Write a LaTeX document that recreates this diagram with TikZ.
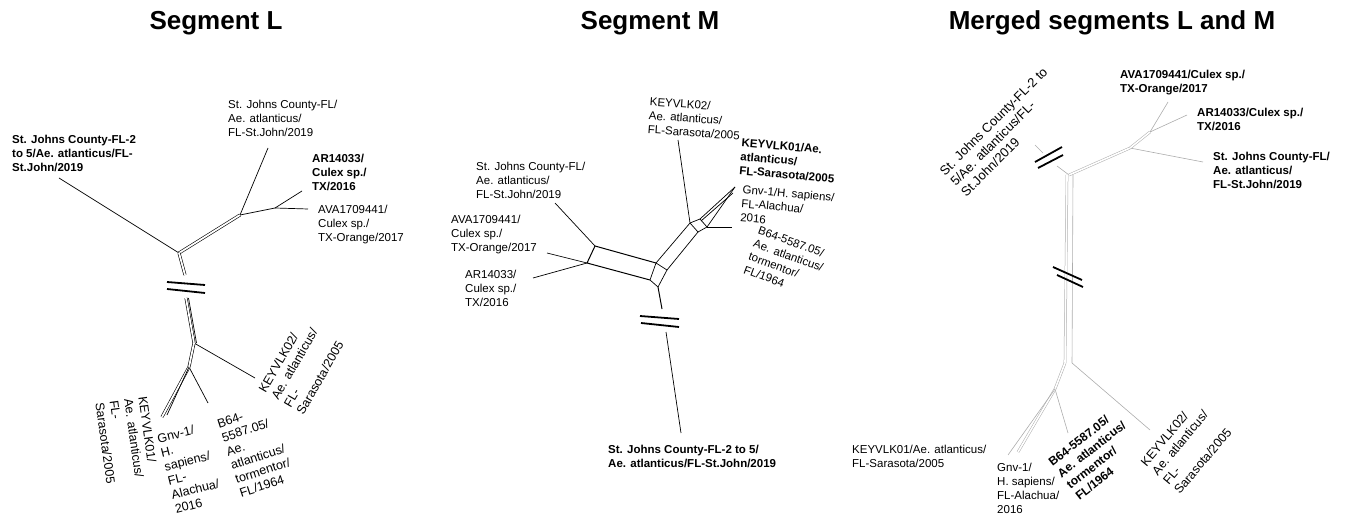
\documentclass[tikz,border=0pt]{standalone}
\usepackage{fontspec}
\setmainfont{Liberation Sans}
\begin{document}
\begin{tikzpicture}[x=1pt,y=-1pt]
  \tikzset{
    titolo/.style={font=\fontsize{26}{30}\selectfont\bfseries, anchor=base, inner sep=0pt},
    etichetta/.style={font=\fontsize{11.5}{14}\selectfont, align=left, inner sep=0pt, anchor=north west},
    grassetto/.style={font=\fontsize{11.5}{14}\selectfont\bfseries},
    ruotata/.style={etichetta, anchor=center, font=\fontsize{12.5}{14.5}\selectfont},
    ruotatagrassa/.style={etichetta, anchor=center, font=\fontsize{12}{14.5}\selectfont\bfseries},
    ramo/.style={line width=0.7pt},
    ramodoppio/.style={double, double distance=1.8pt, line width=0.6pt},
    taglio/.style={line width=1.8pt},
    grigio/.style={gray!65, line width=0.6pt},
    grigiodoppio/.style={gray!65, double, double distance=1.6pt, line width=0.5pt}
  }
  \useasboundingbox (0,0) rectangle (1348,518);

  % titoli
  \node[titolo] (tL) at (216,30) {Segment L};
  \node[titolo] (tM) at (650,30) {Segment M};
  \node[titolo] (tLM) at (1112,30) {Merged segments L and M};

  % segmento L: vertici
  \coordinate (L0) at (179,253);
  \coordinate (La) at (240,215);
  \coordinate (Lb) at (275,208);
  \coordinate (Lc) at (185,275);
  \coordinate (Ld) at (186,298);
  \coordinate (Le) at (194,343);
  \coordinate (Lf) at (189,367);
  % segmento L: foglie
  \coordinate (Lsj2) at (59,178);
  \coordinate (Lsj) at (268,148);
  \coordinate (Lar) at (302,191);
  \coordinate (Lava) at (308,209);
  \coordinate (Lk2) at (255,378);
  \coordinate (Lb64) at (208,403);
  \coordinate (Lk1) at (162,417);
  \coordinate (Lgnv) at (167,415);

  \draw[ramo] (L0) -- (Lsj2);
  \draw[ramodoppio] (L0) -- (La);
  \draw[ramo] (La) -- (Lsj);
  \draw[ramo] (La) -- (Lb);
  \draw[ramo] (Lb) -- (Lar);
  \draw[ramo] (Lb) -- (Lava);
  \draw[ramodoppio] (L0) -- (Lc);
  \draw[taglio] (167,282) -- (205,285);
  \draw[taglio] (167,289) -- (205,293);
  \draw[ramodoppio] (Ld) -- (Le);
  \draw[ramo] ([xshift=2.5pt]Ld) -- ([xshift=2.5pt]Le);
  \draw[ramo] (Le) -- (Lk2);
  \draw[ramodoppio] (Le) -- (Lf);
  \draw[ramo] (Lf) -- (Lb64);
  \draw[ramodoppio] (Lf) -- (Lk1);
  \draw[ramo] (Lf) -- (Lgnv);

  % segmento L: etichette
  \node[etichetta, grassetto] (lLsj2) at (12,135) {St. Johns County-FL-2\\to 5/Ae. atlanticus/FL-\\St.John/2019};
  \node[etichetta] (lLsj) at (228,100) {St. Johns County-FL/\\Ae. atlanticus/\\FL-St.John/2019};
  \node[etichetta, grassetto] (lLar) at (312,154) {AR14033/\\Culex sp./\\TX/2016};
  \node[etichetta] (lLava) at (318,205) {AVA1709441/\\Culex sp./\\TX-Orange/2017};
  \node[ruotata, rotate=60] (lLk2) at (301,367) {KEYVLK02/\\Ae. atlanticus/\\FL-\\Sarasota/2005};
  \node[ruotata, rotate=-82] (lLk1) at (127,440) {KEYVLK01/\\Ae. atlanticus/\\FL-\\Sarasota/2005};
  \node[ruotata, rotate=14] (lLgnv) at (190,468) {Gnv-1/\\H.\\sapiens/\\FL-\\Alachua/\\2016};
  \node[ruotata, rotate=18] (lLb64) at (256,450) {B64-\\5587.05/\\Ae.\\atlanticus/\\tormentor/\\FL/1964};

  % segmento M: vertici
  \coordinate (MA) at (595,246);
  \coordinate (MB) at (587,263);
  \coordinate (MC) at (656,263);
  \coordinate (MD) at (650,280);
  \coordinate (ME) at (667,270);
  \coordinate (MF) at (658,287);
  \coordinate (MG) at (690,223);
  \coordinate (MH) at (698,232);
  \coordinate (MI) at (707,227);
  \coordinate (MJ) at (700,219);
  \coordinate (Ms1) at (662,309);
  \coordinate (Ms2) at (666,332);
  % segmento M: foglie
  \coordinate (Msj) at (555,203);
  \coordinate (Mava) at (547,253);
  \coordinate (Mar) at (533,278);
  \coordinate (Mk2) at (678,140);
  \coordinate (Mk1) at (735,187);
  \coordinate (Mgnv) at (733,193);
  \coordinate (Mb64) at (732,227);
  \coordinate (Msj2) at (681,433);

  \draw[ramo, line width=1pt] (MA) -- (MC) (MB) -- (MD) (MA) -- (MB);
  \draw[ramo] (MC) -- (MD) (MC) -- (ME) (MD) -- (MF) (ME) -- (MF);
  \draw[ramo] (MC) -- (MG) (ME) -- (MH) (MG) -- (MH);
  \draw[ramo] (MG) -- (MJ) (MH) -- (MI) (MJ) -- (MI);
  \draw[ramo] (MA) -- (Msj);
  \draw[ramo] (MB) -- (Mava);
  \draw[ramo] (MB) -- (Mar);
  \draw[ramo] (MG) -- (Mk2);
  \draw[ramo] (MJ) -- (Mk1);
  \draw[ramo] (MI) -- (Mk1);
  \draw[ramo] ([shift={(1,2)}]MJ) -- (Mgnv);
  \draw[ramo] (MI) -- (Mb64);
  \draw[ramo, line width=1pt] (MF) -- (Ms1);
  \draw[taglio] (640,316) -- (679,319);
  \draw[taglio] (641,323) -- (679,327);
  \draw[ramo] (Ms2) -- (Msj2);

  % segmento M: etichette
  \node[etichetta, rotate=-4] (lMk2) at (650,97) {KEYVLK02/\\Ae. atlanticus/\\FL-Sarasota/2005};
  \node[etichetta, grassetto, rotate=-5] (lMk1) at (742,138) {KEYVLK01/Ae.\\atlanticus/\\FL-Sarasota/2005};
  \node[etichetta, rotate=-5] (lMgnv) at (743,185) {Gnv-1/H. sapiens/\\FL-Alachua/\\2016};
  \node[etichetta, anchor=center, rotate=-20] (lMb64) at (786,262) {B64-5587.05/\\Ae. atlanticus/\\tormentor/\\FL/1964};
  \node[etichetta] (lMsj) at (476,162) {St. Johns County-FL/\\Ae. atlanticus/\\FL-St.John/2019};
  \node[etichetta] (lMava) at (451,215) {AVA1709441/\\Culex sp./\\TX-Orange/2017};
  \node[etichetta] (lMar) at (465,270) {AR14033/\\Culex sp./\\TX/2016};
  \node[etichetta, grassetto] (lMsj2) at (608,445) {St. Johns County-FL-2 to 5/\\Ae. atlanticus/FL-St.John/2019};

  % segmenti uniti: vertici
  \coordinate (N0) at (1069,175);
  \coordinate (N1) at (1130,148);
  \coordinate (N2) at (1150,132);
  \coordinate (N3) at (1065,363);
  \coordinate (N4) at (1072,363);
  \coordinate (N5) at (1055,389);
  \coordinate (Nt1) at (1057,166);
  \coordinate (Nt2) at (1043,153);
  % segmenti uniti: foglie
  \coordinate (Nsj2) at (1035,145);
  \coordinate (Nsj) at (1203,162);
  \coordinate (Nava) at (1168,102);
  \coordinate (Nar) at (1187,115);
  \coordinate (Nk2) at (1150,430);
  \coordinate (Nb64) at (1068,433);
  \coordinate (Ngnv) at (1018,452);
  \coordinate (Nk1) at (1008,455);

  \draw[grigio] (N0) -- (Nt1);
  \draw[grigio] (Nt2) -- (Nsj2);
  \draw[grigiodoppio] (N0) -- (N1);
  \draw[grigio] (N1) -- (Nsj);
  \draw[grigiodoppio] (N1) -- (N2);
  \draw[grigio] (N2) -- (Nava);
  \draw[grigio] (N2) -- (Nar);
  \draw[grigiodoppio] ([xshift=-2pt]N0) -- (N3);
  \draw[grigio] ([xshift=4pt]N0) -- (N4);
  \draw[grigio] (N4) -- (Nk2);
  \draw[grigiodoppio] (N3) -- (N5);
  \draw[grigio] (N5) -- (Nb64);
  \draw[grigiodoppio] (N5) -- (Ngnv);
  \draw[grigio] (N5) -- (Nk1);
  \draw[taglio] (1035,162) -- (1062,147);
  \draw[taglio] (1038,168) -- (1063,155);
  \draw[taglio] (1053,267) -- (1082,280);
  \draw[taglio] (1057,275) -- (1083,287);

  % segmenti uniti: etichette
  \node[ruotata, font=\fontsize{13}{15}\selectfont, rotate=45] (lNsj2) at (1004,132) {St. Johns County-FL-2 to\\5/Ae. atlanticus/FL-\\St.John/2019};
  \node[etichetta, grassetto] (lNava) at (1120,70) {AVA1709441/Culex sp./\\TX-Orange/2017};
  \node[etichetta, grassetto] (lNar) at (1197,108) {AR14033/Culex sp./\\TX/2016};
  \node[etichetta, grassetto] (lNsj) at (1213,152) {St. Johns County-FL/\\Ae. atlanticus/\\FL-St.John/2019};
  \node[etichetta] (lNk1) at (852,445) {KEYVLK01/Ae. atlanticus/\\FL-Sarasota/2005};
  \node[etichetta] (lNgnv) at (997,463) {Gnv-1/\\H. sapiens/\\FL-Alachua/\\2016};
  \node[ruotatagrassa, rotate=38] (lNb64) at (1096,455) {B64-5587.05/\\Ae. atlanticus/\\tormentor/\\FL/1964};
  \node[ruotata, rotate=50] (lNk2) at (1186,447) {KEYVLK02/\\Ae. atlanticus/\\FL-\\Sarasota/2005};
\end{tikzpicture}
\end{document}
